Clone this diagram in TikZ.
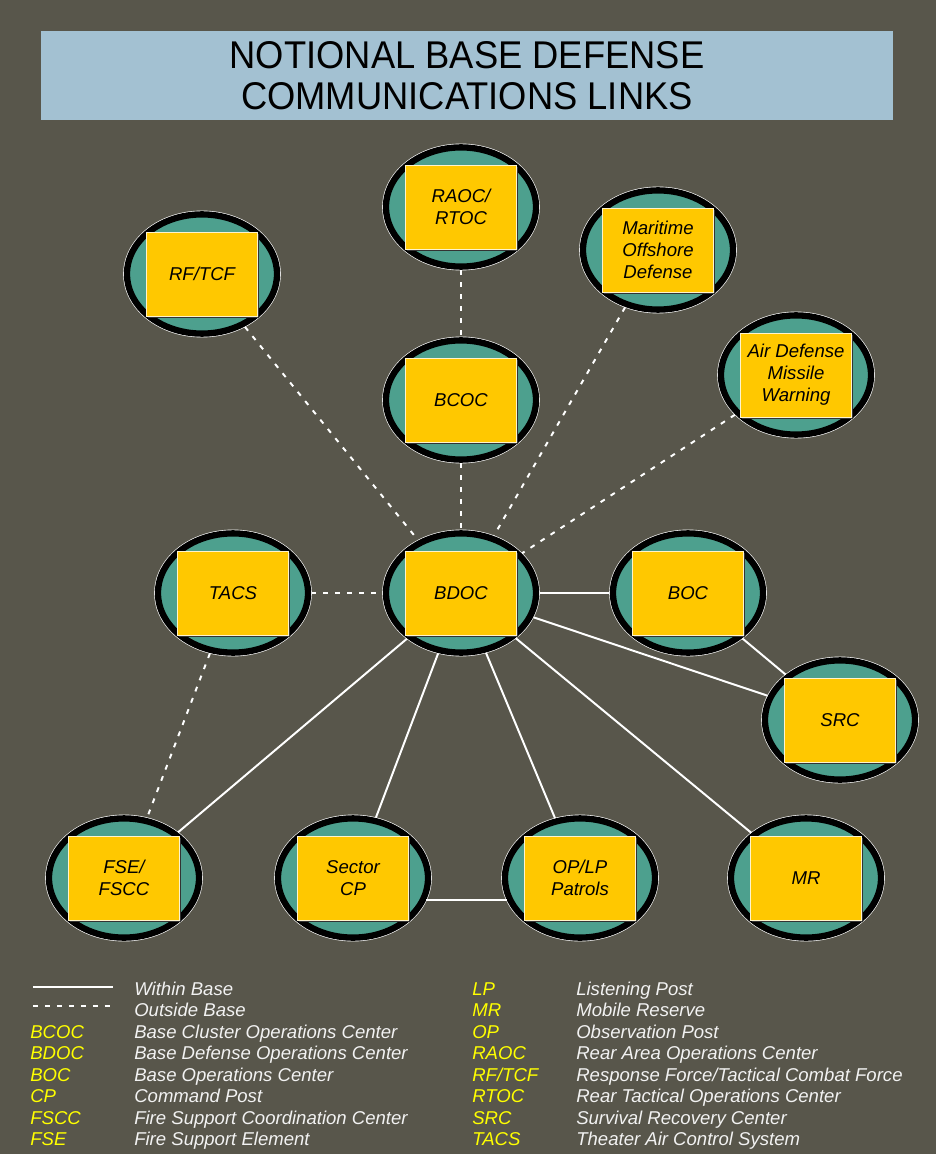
\documentclass[tikz,border=0pt]{standalone}
\usepackage{fontspec}
\setmainfont{Liberation Sans}
\newfontfamily\titlefont[FakeStretch=0.94]{Liberation Sans}
\usetikzlibrary{shapes.geometric,shadows}

\definecolor{bgolive}{RGB}{88,86,75}
\definecolor{ringteal}{RGB}{77,160,142}
\definecolor{boxgold}{RGB}{255,200,0}
\definecolor{titleblue}{RGB}{163,193,210}
\definecolor{abbryellow}{RGB}{255,255,0}
\definecolor{legwhite}{RGB}{242,242,242}

\tikzset{
  ring/.style={ellipse, fill=ringteal, draw=black, line width=4.5pt,
    preaction={draw=white, line width=5.4pt},
    minimum width=3.75cm, minimum height=2.98cm, inner sep=0pt, outer sep=2.5pt},
  box/.style={rectangle, fill=boxgold, draw=white!80!boxgold, line width=0.5pt,
    minimum width=2.775cm, minimum height=2.1cm, inner sep=0pt, align=center,
    font=\itshape\fontsize{13.2}{15.6}\selectfont,
    drop shadow={shadow xshift=1.3pt, shadow yshift=-1.3pt, fill=black!80, opacity=1}},
  within/.style={white, line width=1.4pt},
  outside/.style={white, line width=1.4pt, dash pattern=on 3.5pt off 5pt},
  legabbr/.style={anchor=base west, inner sep=0pt, text=abbryellow,
    font=\itshape\fontsize{13.2}{15}\selectfont},
  legtext/.style={anchor=base west, inner sep=0pt, text=legwhite,
    font=\itshape\fontsize{13.2}{15}\selectfont}
}

\begin{document}
\begin{tikzpicture}[x=0.025cm,y=-0.025cm]
%background
\fill[bgolive] (0,0) rectangle (936,1154);
%title
\node[fill=titleblue, minimum width=21.3cm, minimum height=2.225cm, align=center,
  font=\titlefont\fontsize{27.5}{29}\selectfont] (title) at (467,75.5)
  {NOTIONAL BASE DEFENSE\\COMMUNICATIONS LINKS};

%outer ring of nodes
\node[ring] (raoc) at (461,207) {};
\node[box] (raoc-box) at (raoc) {RAOC/\\RTOC};
\node[ring] (rftcf) at (202,274) {};
\node[box] (rftcf-box) at (rftcf) {RF/TCF};
\node[ring] (maritime) at (658,250) {};
\node[box] (maritime-box) at (maritime) {Maritime\\Offshore\\Defense};
\node[ring] (bcoc) at (461,400) {};
\node[box] (bcoc-box) at (bcoc) {BCOC};
\node[ring] (admw) at (796,375) {};
\node[box] (admw-box) at (admw) {Air Defense\\Missile\\Warning};

%middle row
\node[ring] (tacs) at (233,593) {};
\node[box] (tacs-box) at (tacs) {TACS};
\node[ring] (bdoc) at (461,593) {};
\node[box] (bdoc-box) at (bdoc) {BDOC};
\node[ring] (boc) at (688,593) {};
\node[box] (boc-box) at (boc) {BOC};
\node[ring] (src) at (840,720) {};
\node[box] (src-box) at (src) {SRC};

%bottom row
\node[ring] (fse) at (124,878) {};
\node[box] (fse-box) at (fse) {FSE/\\FSCC};
\node[ring] (sector) at (353,878) {};
\node[box] (sector-box) at (sector) {Sector\\CP};
\node[ring] (oplp) at (580,878) {};
\node[box] (oplp-box) at (oplp) {OP/LP\\Patrols};
\node[ring] (mr) at (806,878) {};
\node[box] (mr-box) at (mr) {MR};

%outside base links
\draw[outside] (raoc) -- (bcoc);
\draw[outside] (bcoc) -- (bdoc);
\draw[outside] (rftcf) -- (bdoc);
\draw[outside] (maritime) -- (bdoc);
\draw[outside] (admw) -- (bdoc);
\draw[outside] (tacs) -- (bdoc);
\draw[outside] (tacs) -- (fse);
%within base links
\draw[within] (bdoc) -- (boc);
\draw[within] (boc) -- (src);
\draw[within] (bdoc) -- (src);
\draw[within] (bdoc) -- (fse);
\draw[within] (bdoc) -- (sector);
\draw[within] (bdoc) -- (oplp);
\draw[within] (bdoc) -- (mr);
\draw[within] (sector.-17) -- (oplp.197);

%legend
\coordinate (within-a) at (33,987);
\coordinate (within-b) at (113,987);
\draw[within] (within-a) -- (within-b);
\coordinate (outside-a) at (33,1006);
\coordinate (outside-b) at (113,1006);
\draw[outside] (outside-a) -- (outside-b);
\node[legtext] (within-t) at (134,995) {Within Base};
\node[legtext] (outside-t) at (134,1016) {Outside Base};
\node[legabbr] (bcoc-a) at (30,1038) {BCOC};
\node[legtext] (bcoc-t) at (134,1038) {Base Cluster Operations Center};
\node[legabbr] (bdoc-a) at (30,1059) {BDOC};
\node[legtext] (bdoc-t) at (134,1059) {Base Defense Operations Center};
\node[legabbr] (boc-a) at (30,1081) {BOC};
\node[legtext] (boc-t) at (134,1081) {Base Operations Center};
\node[legabbr] (cp-a) at (30,1102) {CP};
\node[legtext] (cp-t) at (134,1102) {Command Post};
\node[legabbr] (fscc-a) at (30,1124) {FSCC};
\node[legtext] (fscc-t) at (134,1124) {Fire Support Coordination Center};
\node[legabbr] (fse-a) at (30,1145) {FSE};
\node[legtext] (fse-t) at (134,1145) {Fire Support Element};

\node[legabbr] (lp-a) at (472,995) {LP};
\node[legtext] (lp-t) at (576,995) {Listening Post};
\node[legabbr] (mr-a) at (472,1016) {MR};
\node[legtext] (mr-t) at (576,1016) {Mobile Reserve};
\node[legabbr] (op-a) at (472,1038) {OP};
\node[legtext] (op-t) at (576,1038) {Observation Post};
\node[legabbr] (raoc-a) at (472,1059) {RAOC};
\node[legtext] (raoc-t) at (576,1059) {Rear Area Operations Center};
\node[legabbr] (rftcf-a) at (472,1081) {RF/TCF};
\node[legtext] (rftcf-t) at (576,1081) {Response Force/Tactical Combat Force};
\node[legabbr] (rtoc-a) at (472,1102) {RTOC};
\node[legtext] (rtoc-t) at (576,1102) {Rear Tactical Operations Center};
\node[legabbr] (src-a) at (472,1124) {SRC};
\node[legtext] (src-t) at (576,1124) {Survival Recovery Center};
\node[legabbr] (tacs-a) at (472,1145) {TACS};
\node[legtext] (tacs-t) at (576,1145) {Theater Air Control System};
\end{tikzpicture}
\end{document}
